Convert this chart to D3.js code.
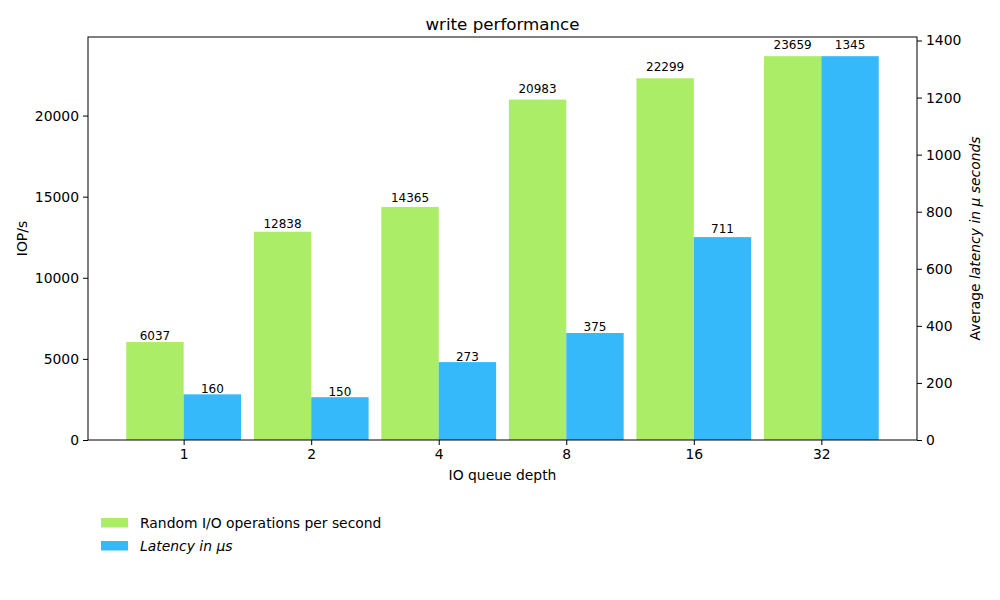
<!DOCTYPE html>
<html><head><meta charset="utf-8">
<script src="https://cdn.jsdelivr.net/npm/d3@7"></script>
<style>body{margin:0;background:#fff}svg{display:block;font-family:"DejaVu Sans",sans-serif}</style>
</head><body><svg id="c" width="1000" height="600"></svg>
<script>
const categories = ["1","2","4","8","16","32"];
const iops = [6037,12838,14365,20983,22299,23659];
const latency = [160,150,273,375,711,1345];
const leftTicks = [0,5000,10000,15000,20000];
const rightTicks = [0,200,400,600,800,1000,1200,1400];

const svg = d3.select("#c");
const L=88,R=917,T=37,B=440;
const green="#abed66", blue="#35b9fa";
const fs="13.9px";
const x = d3.scaleLinear().domain([-0.75, categories.length-0.25]).range([L,R]);
const yL = d3.scaleLinear().domain([0, d3.max(iops)*1.05]).range([B,T]);
const yR = d3.scaleLinear().domain([0, d3.max(latency)*1.05]).range([B,T]);
const bw = 0.45;
const bwPx = x(bw)-x(0);

svg.append("g").selectAll("rect").data(iops).join("rect")
  .attr("x",(d,i)=>x(i-bw)).attr("width",bwPx)
  .attr("y",d=>yL(d)).attr("height",d=>B-yL(d)).attr("fill",green);
svg.append("g").selectAll("rect").data(latency).join("rect")
  .attr("x",(d,i)=>x(i)).attr("width",bwPx)
  .attr("y",d=>yR(d)).attr("height",d=>B-yR(d)).attr("fill",blue);

svg.append("g").selectAll("text").data(iops).join("text")
  .attr("x",(d,i)=>x(i-bw/2)).attr("y",d=>yL(d*1.02)).attr("text-anchor","middle")
  .attr("font-size","12px").text(d=>d);
svg.append("g").selectAll("text").data(latency).join("text")
  .attr("x",(d,i)=>x(i+bw/2)).attr("y",d=>yR(d*1.02)).attr("text-anchor","middle")
  .attr("font-size","12px").text(d=>d);

// frame
svg.append("rect").attr("x",L).attr("y",T).attr("width",R-L).attr("height",B-T)
  .attr("fill","none").attr("stroke","#000").attr("stroke-width",1);

function styleAxis(g){g.select(".domain").remove();g.selectAll("text").attr("font-size",fs).attr("fill","#000").attr("font-family","DejaVu Sans");g.selectAll("line").attr("stroke","#000");}
svg.append("g").attr("transform",`translate(0,${B})`)
  .call(d3.axisBottom(x).tickValues(d3.range(categories.length)).tickFormat(i=>categories[i]).tickSize(5).tickPadding(4)).call(styleAxis);
svg.append("g").attr("transform",`translate(${L},0)`)
  .call(d3.axisLeft(yL).tickValues(leftTicks).tickFormat(d3.format("d")).tickSize(5).tickPadding(4)).call(styleAxis);
svg.append("g").attr("transform",`translate(${R},0)`)
  .call(d3.axisRight(yR).tickValues(rightTicks).tickFormat(d3.format("d")).tickSize(5).tickPadding(4)).call(styleAxis);

svg.append("text").attr("x",(L+R)/2).attr("y",29.5).attr("text-anchor","middle").attr("font-size","16.7px").text("write performance");
svg.append("text").attr("x",(L+R)/2).attr("y",480).attr("text-anchor","middle").attr("font-size",fs).text("IO queue depth");
svg.append("text").attr("transform",`translate(27,${(T+B)/2}) rotate(-90)`).attr("text-anchor","middle").attr("font-size",fs).text("IOP/s");
const rl = svg.append("text").attr("transform",`translate(980,${(T+B)/2}) rotate(-90)`).attr("text-anchor","middle").attr("font-size",fs);
rl.append("tspan").text("Average ");
rl.append("tspan").attr("font-style","italic").text("latency in μ seconds");

const leg = [{c:green,t:"Random I/O operations per second",it:false},{c:blue,t:"Latency in μs",it:true}];
const lg = svg.append("g").selectAll("g").data(leg).join("g").attr("transform",(d,i)=>`translate(101,${518+i*23})`);
lg.append("rect").attr("width",27).attr("height",9.5).attr("fill",d=>d.c);
lg.append("text").attr("x",39).attr("y",9.8).attr("font-size",fs).attr("font-style",d=>d.it?"italic":"normal").text(d=>d.t);
</script></body></html>
